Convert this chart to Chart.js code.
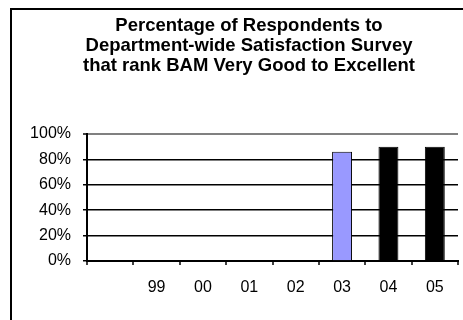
<!DOCTYPE html>
<html>
<head>
<meta charset="utf-8">
<script src="https://cdn.jsdelivr.net/npm/chart.js@4"></script>
<style>
  html, body { margin: 0; padding: 0; background: #fff; overflow: hidden; }
  #wrap { position: relative; width: 463px; height: 320px; overflow: hidden; }
  #frame {
    position: absolute; left: 10px; top: 8px; width: 600px; height: 400px;
    border-left: 2px solid #000; border-top: 2px solid #000; pointer-events: none;
  }
  canvas { position: absolute; left: 0; top: 0; }
</style>
</head>
<body>
<div id="wrap">
  <canvas id="surveyChart" width="498" height="320"></canvas>
  <div id="frame"></div>
</div>
<script>
// Survey years (first slot has no label)
const years = ['', '99', '00', '01', '02', '03', '04', '05'];
// Percent rating BAM very good to excellent
const pctGoodToExcellent = [null, null, null, null, null, 86, 90, 90];
const barColors = ['#000', '#000', '#000', '#000', '#000', '#9999FF', '#000', '#000'];
const yTicks = [0, 20, 40, 60, 80, 100];

const titleLines = [
    'Percentage of Respondents to',
    'Department-wide Satisfaction Survey',
    'that rank BAM Very Good to Excellent'
];

const fontFamily = "'Liberation Sans', Arial, sans-serif";

const ctx = document.getElementById('surveyChart').getContext('2d');
const surveyChart = new Chart(ctx, {
    type: 'bar',
    data: {
        labels: years,
        datasets: [{
            data: pctGoodToExcellent,
            backgroundColor: barColors,
            borderColor: '#000',
            borderWidth: 1,
            barPercentage: 0.43,
            categoryPercentage: 1
        }]
    },
    options: {
        responsive: false,
        animation: false,
        layout: { padding: 0 },
        plugins: {
            legend: { display: false },
            tooltip: { enabled: false },
            title: {
                display: true,
                text: titleLines,
                color: '#000',
                font: { family: fontFamily, size: 18.5, weight: 'bold', lineHeight: '20px' },
                padding: { top: 16, bottom: 58 }
            }
        },
        scales: {
            x: {
                grid: {
                    offset: true,
                    drawOnChartArea: true,
                    color: (c) => c.index === years.length ? '#808080' : 'rgba(0,0,0,0)',
                    lineWidth: 2,
                    tickColor: '#000',
                    tickWidth: 1.5,
                    tickLength: 4
                },
                border: { color: '#000', width: 2 },
                ticks: {
                    color: '#000',
                    padding: 13,
                    maxRotation: 0,
                    font: { family: fontFamily, size: 16 }
                },
                afterFit: (scale) => { scale.height = 59; }
            },
            y: {
                min: 0,
                max: 100,
                afterBuildTicks: (scale) => { scale.ticks = yTicks.map(v => ({ value: v })); },
                grid: {
                    color: (c) => c.tick && c.tick.value === 100 ? '#808080' : '#000',
                    lineWidth: (c) => c.tick && c.tick.value === 100 ? 2 : 1.5,
                    tickColor: '#000',
                    tickWidth: 1.5,
                    tickLength: 4
                },
                border: { color: '#000', width: 2 },
                ticks: {
                    color: '#000',
                    padding: 12,
                    font: { family: fontFamily, size: 16 },
                    callback: (v) => v + '%'
                },
                afterFit: (scale) => { scale.width = 87; }
            },
            // empty right-hand margin inside the frame
            rightMargin: {
                type: 'linear',
                position: 'right',
                grid: { display: false },
                border: { display: false },
                ticks: { display: false },
                afterFit: (scale) => { scale.width = 40; }
            }
        }
    }
});
</script>
</body>
</html>
